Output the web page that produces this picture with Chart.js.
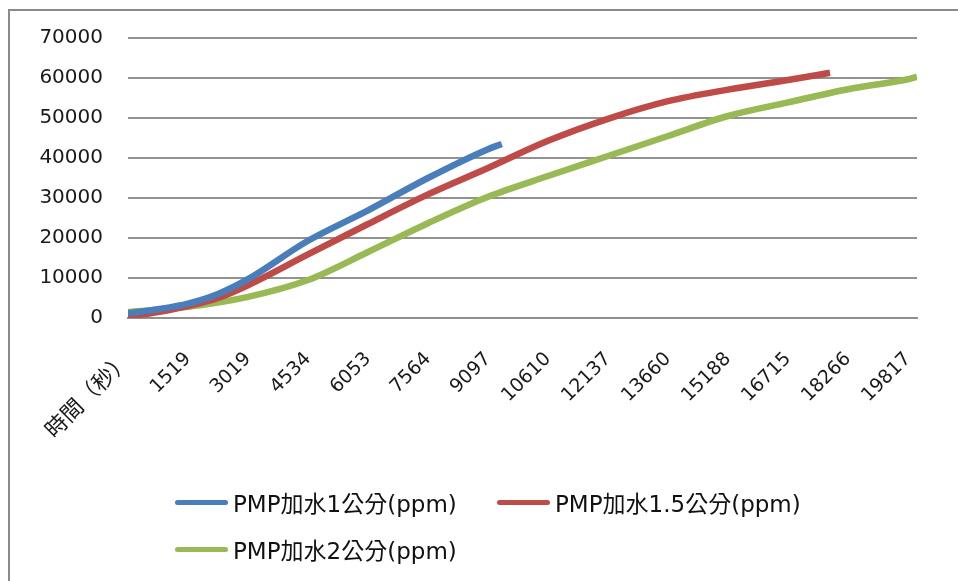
<!DOCTYPE html>
<html>
<head>
<meta charset="utf-8">
<script src="https://cdn.jsdelivr.net/npm/chart.js@4.4.1/dist/chart.umd.min.js"></script>
<style>
  html, body { margin: 0; padding: 0; background: #fff; }
  #wrap { position: relative; width: 958px; height: 581px; overflow: hidden; }
  #frame { position: absolute; left: 8px; top: 9px; width: 1000px; height: 1000px; border: 2px solid #8a8a8a; box-sizing: border-box; }
  #chart { position: absolute; left: 0; top: 0; }
  #legend { position: absolute; left: 175px; top: 484px; display: grid; grid-template-columns: 322px 322px; row-gap: 11px;
    font-family: "DejaVu Sans", "Noto Sans CJK TC", sans-serif; font-size: 23px; color: #111; }
  .item { display: flex; align-items: center; height: 36px; white-space: nowrap; }
  .swatch { width: 53px; height: 5px; border-radius: 3px; margin-right: 5px; }
</style>
</head>
<body>
<div id="wrap">
  <div id="frame"></div>
  <canvas id="chart" width="958" height="581"></canvas>
  <div id="legend"></div>
</div>
<script>
// category labels along the time axis (one every ~1515 s)
const timeLabels = ['時間（秒）', '1519', '3019', '4534', '6053', '7564', '9097',
  '10610', '12137', '13660', '15188', '16715', '18266', '19817'];

const seriesNames = ['PMP加水1公分(ppm)', 'PMP加水1.5公分(ppm)', 'PMP加水2公分(ppm)'];
const seriesColors = ['#4a7ebb', '#be4b48', '#98b954'];

// positions are in label units (0 = 時間（秒）, 13 = 19817)
const pos1 = [0, 0.5, 1, 1.5, 2, 3, 4, 5, 6, 6.23];
const ppm1 = [1200, 2200, 3600, 6000, 9700, 19300, 26900, 35000, 42200, 43500];

const pos15 = [0, 0.5, 1, 1.5, 2, 3, 4, 5, 6, 7, 8, 9, 10, 11, 11.7];
const ppm15 = [300, 1500, 3000, 5000, 8200, 15900, 23500, 30900, 37500, 44300, 49800, 54200, 57100, 59500, 61300];

const pos2 = [0, 1, 2, 3, 4, 5, 6, 7, 8, 9, 10, 11, 12, 13, 13.15];
const ppm2 = [1500, 2800, 5300, 9500, 16500, 23700, 30300, 35500, 40500, 45500, 50500, 53900, 57200, 59700, 60300];

const yTicks = [0, 10000, 20000, 30000, 40000, 50000, 60000, 70000];

function toPoints(xs, ys) {
  return xs.map(function (x, i) { return { x: x, y: ys[i] }; });
}

const seriesData = [toPoints(pos1, ppm1), toPoints(pos15, ppm15), toPoints(pos2, ppm2)];

const fontFamily = '"DejaVu Sans", "Noto Sans CJK TC", sans-serif';

new Chart(document.getElementById('chart'), {
  type: 'line',
  data: {
    datasets: seriesData.map(function (pts, i) {
      return {
        label: seriesNames[i],
        data: pts,
        borderColor: seriesColors[i],
        backgroundColor: seriesColors[i],
        borderWidth: 6.5,
        pointRadius: 0,
        cubicInterpolationMode: 'monotone',
        fill: false,
      };
    })
  },
  options: {
    responsive: false,
    animation: false,
    events: [],
    layout: {
      padding: { top: 38, right: 41, left: 0, bottom: 0 }
    },
    plugins: {
      legend: { display: false },
      tooltip: { enabled: false },
    },
    scales: {
      x: {
        type: 'linear',
        min: 0,
        max: 13.15,
        afterBuildTicks: function (axis) {
          axis.ticks = timeLabels.map(function (_, i) { return { value: i }; });
        },
        afterFit: function (axis) {
          axis.height = 263;
        },
        grid: { display: false },
        border: { display: true, color: '#8f8f8f', width: 2 },
        ticks: {
          autoSkip: false,
          minRotation: 45,
          maxRotation: 45,
          padding: 22,
          color: '#1a1a1a',
          // the header label is a bit larger (CJK text)
          font: function (ctx) {
            return { family: fontFamily, size: ctx.index === 0 ? 22 : 19 };
          },
          callback: function (value) { return timeLabels[value]; }
        }
      },
      y: {
        min: 0,
        max: 70000,
        afterBuildTicks: function (axis) {
          axis.ticks = yTicks.map(function (v) { return { value: v }; });
        },
        afterFit: function (axis) {
          axis.width = 128;
        },
        border: { display: false },
        grid: { color: '#929292', lineWidth: 2, drawTicks: false },
        ticks: {
          padding: 25,
          color: '#1a1a1a',
          font: { family: fontFamily, size: 20 },
          callback: function (value) { return String(value); }
        }
      }
    }
  }
});

// legend laid out like the spreadsheet one: two columns, left aligned
const legend = document.getElementById('legend');
seriesNames.forEach(function (name, i) {
  const item = document.createElement('div');
  item.className = 'item';
  const sw = document.createElement('span');
  sw.className = 'swatch';
  sw.style.background = seriesColors[i];
  item.appendChild(sw);
  item.appendChild(document.createTextNode(name));
  legend.appendChild(item);
});
</script>
</body>
</html>
